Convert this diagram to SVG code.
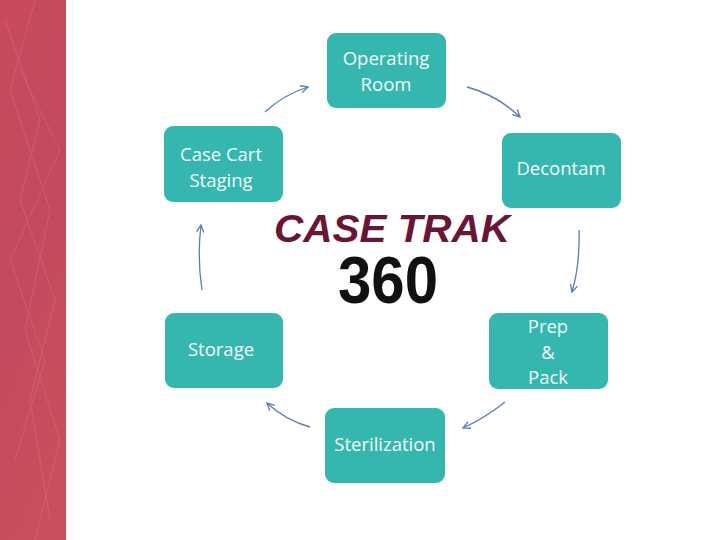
<svg xmlns="http://www.w3.org/2000/svg" width="720" height="540" viewBox="0 0 720 540">
<style>
.box{fill:#35b7af;}
.lbl{font-family:"Open Sans","Noto Sans",sans-serif;font-size:18.5px;fill:#f4fbfa;text-anchor:middle;}
.arr{fill:none;stroke:#5a7db3;stroke-width:1.3;marker-end:url(#ah);}
</style>
<defs>
<marker id="ah" viewBox="0 0 10 10" refX="9" refY="5" markerWidth="9" markerHeight="9" markerUnits="userSpaceOnUse" orient="auto">
<path d="M1,1 L9,5 L1,9" fill="none" stroke="#5a7db3" stroke-width="1.5"/>
</marker>
<linearGradient id="strip" x1="0" y1="0" x2="0.3" y2="1">
<stop offset="0" stop-color="#c9495c"/>
<stop offset="0.5" stop-color="#c24a5f"/>
<stop offset="1" stop-color="#c94e5c"/>
</linearGradient>
</defs>
<rect width="720" height="540" fill="#ffffff"/>
<g id="strip-bg">
<rect x="0" y="0" width="66" height="540" fill="url(#strip)"/>
<g stroke="#d98a9a" stroke-width="1" opacity="0.3" fill="none">
<path d="M5,20 L40,120 L20,200 L55,300 L30,400 L50,520"/>
<path d="M15,60 L60,150 L10,260 L45,360 L15,460"/>
<path d="M35,0 L10,90 L50,210 L25,330 L60,440 L35,540"/>
</g>
</g>
<g id="title">
<text x="392" y="242" font-family="'Liberation Sans',Arial,sans-serif" font-weight="bold" font-style="italic" font-size="38" fill="#6a1535" text-anchor="middle" textLength="236" lengthAdjust="spacingAndGlyphs">CASE TRAK</text>
<text x="388" y="303" font-family="'Liberation Sans',Arial,sans-serif" font-weight="bold" font-size="66" fill="#111111" text-anchor="middle" textLength="100" lengthAdjust="spacingAndGlyphs">360</text>
</g>
<g id="connectors">
<path class="arr" d="M467,87 Q497,95 520,117"/>
<path class="arr" d="M579,230 Q580,265 572,292"/>
<path class="arr" d="M505,402 Q485,418 463,428"/>
<path class="arr" d="M310,427 Q285,420 267,403"/>
<path class="arr" d="M202,290 Q197,258 201,225"/>
<path class="arr" d="M265,112 Q283,95 308,87"/>
</g>
<g id="node-or">
<rect class="box" x="327" y="33" width="119" height="75" rx="9"/>
<text class="lbl" x="386" y="65">Operating</text>
<text class="lbl" x="386" y="91">Room</text>
</g>
<g id="node-decontam">
<rect class="box" x="502" y="133" width="119" height="75" rx="9"/>
<text class="lbl" x="561" y="175">Decontam</text>
</g>
<g id="node-prep">
<rect class="box" x="489" y="313" width="119" height="76" rx="9"/>
<text class="lbl" x="548" y="333">Prep</text>
<text class="lbl" x="548" y="359">&amp;</text>
<text class="lbl" x="548" y="384">Pack</text>
</g>
<g id="node-sterilization">
<rect class="box" x="325" y="408" width="120" height="75" rx="9"/>
<text class="lbl" x="385" y="451">Sterilization</text>
</g>
<g id="node-storage">
<rect class="box" x="165" y="313" width="118" height="75" rx="9"/>
<text class="lbl" x="221" y="356">Storage</text>
</g>
<g id="node-casecart">
<rect class="box" x="164" y="126" width="119" height="76" rx="9"/>
<text class="lbl" x="221" y="161">Case Cart</text>
<text class="lbl" x="221" y="187">Staging</text>
</g>
</svg>
